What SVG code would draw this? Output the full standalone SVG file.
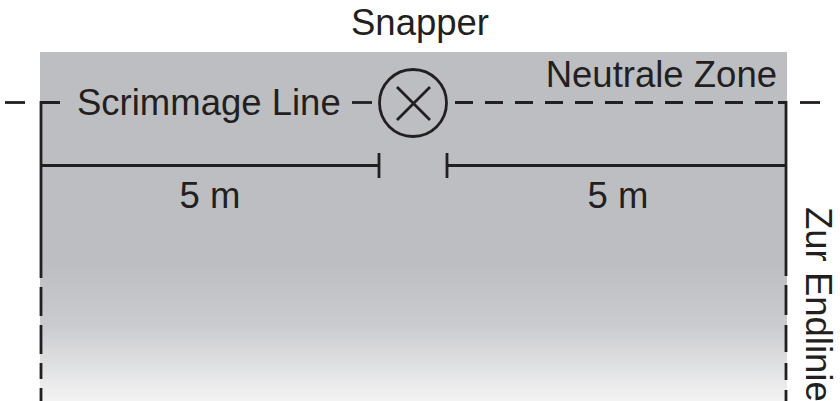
<svg xmlns="http://www.w3.org/2000/svg" width="840" height="401" viewBox="0 0 840 401">
<defs>
<linearGradient id="fade" x1="0" y1="0" x2="0" y2="1" gradientUnits="objectBoundingBox">
<stop offset="0" stop-color="#bdbec2"/>
<stop offset="0.6" stop-color="#bdbec2"/>
<stop offset="0.78" stop-color="#cacbce"/>
<stop offset="1" stop-color="#f3f3f4"/>
</linearGradient>
<style>
.ln{stroke:#231f20;stroke-width:2.8;fill:none}
.t{font-family:"Liberation Sans",Arial,sans-serif;font-size:36.5px;fill:#231f20}
</style>
</defs>
<rect x="40" y="52" width="747" height="349" fill="url(#fade)"/>
<g id="connectors">
<line class="ln" x1="5" y1="102.5" x2="25" y2="102.5"/>
<path class="ln" d="M60 102.5 H41 V278 M41 287 V316 M41 325 V354 M41 363 V379 M41 388 V401"/>
<line class="ln" x1="352" y1="102.5" x2="372" y2="102.5"/>
<line class="ln" x1="455" y1="102.5" x2="787" y2="102.5" stroke-dasharray="18 12"/>
<path class="ln" d="M778 102.5 H786 V276 M786 285 V315 M786 325 V352 M786 363 V380 M786 390 V401"/>
<line class="ln" x1="800" y1="102.5" x2="820" y2="102.5"/>
<path class="ln" d="M41 165.5 H379 M379 153 V178"/>
<path class="ln" d="M447 165.5 H786 M447 153 V178"/>
</g>
<g id="snapper">
<circle class="ln" cx="413" cy="103" r="33.5" fill="#fff"/>
<path class="ln" d="M397 87 L430 120 M430 87 L397 120"/>
<text class="t" x="420" y="35" text-anchor="middle">Snapper</text>
</g>
<g id="labels">
<text class="t" x="77" y="115">Scrimmage Line</text>
<text class="t" x="777" y="87" text-anchor="end">Neutrale Zone</text>
<text class="t" x="210" y="208" text-anchor="middle">5 m</text>
<text class="t" x="618" y="208" text-anchor="middle">5 m</text>
<text class="t" transform="translate(806,207) rotate(90)">Zur Endlinie</text>
</g>
</svg>
